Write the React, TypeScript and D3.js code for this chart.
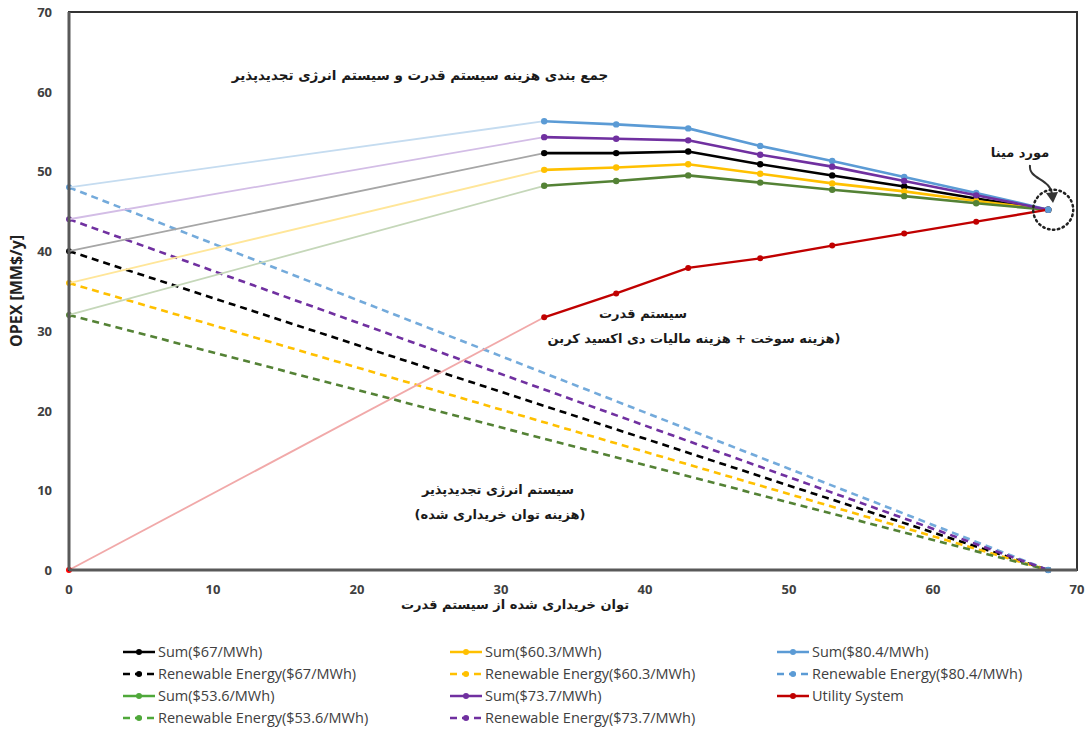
import * as d3 from "d3";

// x positions (MW purchased from the utility)
const xValues = [0, 33, 38, 43, 48, 53, 58, 63, 68];

// Utility system OPEX
const utility = [0, 31.7, 34.7, 37.9, 39.1, 40.7, 42.2, 43.7, 45.2];

// sums (utility + renewable)
const sum67 = [40, 52.3, 52.3, 52.5, 50.9, 49.5, 48.1, 46.6, 45.2];
const sum603 = [36, 50.2, 50.5, 50.9, 49.7, 48.5, 47.5, 46.3, 45.2];
const sum804 = [48, 56.3, 55.9, 55.4, 53.2, 51.3, 49.3, 47.3, 45.2];
const sum536 = [32, 48.2, 48.8, 49.5, 48.6, 47.7, 46.9, 46.0, 45.2];
const sum737 = [44, 54.3, 54.1, 53.9, 52.1, 50.6, 48.8, 47.0, 45.2];

// renewable energy lines: from x=0 down to x=68
const reX = [0, 68];
const re67 = [40, 0];
const re603 = [36, 0];
const re804 = [48, 0];
const re536 = [32, 0];
const re737 = [44, 0];

const xTicks = [0, 10, 20, 30, 40, 50, 60, 70];
const yTicks = [0, 10, 20, 30, 40, 50, 60, 70];

const sums = [
  { name: "Sum($67/MWh)", vals: sum67, color: "#000000", light: "#a6a6a6" },
  { name: "Sum($60.3/MWh)", vals: sum603, color: "#ffc000", light: "#ffe699" },
  { name: "Sum($80.4/MWh)", vals: sum804, color: "#5b9bd5", light: "#c5dcf0" },
  { name: "Sum($53.6/MWh)", vals: sum536, color: "#548235", light: "#c5d7b9" },
  { name: "Sum($73.7/MWh)", vals: sum737, color: "#7030a0", light: "#d3bde6" },
];

const renewables = [
  { name: "Renewable Energy($67/MWh)", vals: re67, color: "#000000" },
  { name: "Renewable Energy($60.3/MWh)", vals: re603, color: "#ffc000" },
  { name: "Renewable Energy($80.4/MWh)", vals: re804, color: "#5b9bd5" },
  { name: "Renewable Energy($53.6/MWh)", vals: re536, color: "#548235" },
  { name: "Renewable Energy($73.7/MWh)", vals: re737, color: "#7030a0" },
];

const legendItems = [
  { name: "Sum($67/MWh)", color: "#000000", dash: false },
  { name: "Sum($60.3/MWh)", color: "#ffc000", dash: false },
  { name: "Sum($80.4/MWh)", color: "#5b9bd5", dash: false },
  { name: "Renewable Energy($67/MWh)", color: "#000000", dash: true },
  { name: "Renewable Energy($60.3/MWh)", color: "#ffc000", dash: true },
  { name: "Renewable Energy($80.4/MWh)", color: "#5b9bd5", dash: true },
  { name: "Sum($53.6/MWh)", color: "#4fa83a", dash: false },
  { name: "Sum($73.7/MWh)", color: "#7030a0", dash: false },
  { name: "Utility System", color: "#c00000", dash: false },
  { name: "Renewable Energy($53.6/MWh)", color: "#4fa83a", dash: true },
  { name: "Renewable Energy($73.7/MWh)", color: "#7030a0", dash: true },
];

const fa = "DejaVu Sans";

export default function App() {
  const left = 69, right = 1077, top = 12, bottom = 570;
  const x = d3.scaleLinear().domain([0, 70]).range([left, right]);
  const y = d3.scaleLinear().domain([0, 70]).range([bottom, top]);

  const line = d3.line<[number, number]>().x(d => x(d[0])).y(d => y(d[1]));
  const pts = (xs: number[], vs: number[]) => xs.map((v, i) => [v, vs[i]] as [number, number]);

  // arrow path toward the dotted circle
  const arrow = d3.path();
  arrow.moveTo(1030, 165);
  arrow.bezierCurveTo(1028, 180, 1052, 178, 1052, 196);

  return (
    <svg width={1089} height={731} style={{ position: "absolute", left: 0, top: 0, background: "#fff" }}>
      {/* renewable dashed lines */}
      {renewables.map((r) => {
        const p = pts(reX, r.vals);
        return (
          <g key={r.name}>
            <path d={line(p) || ""} fill="none" stroke={r.color} strokeWidth={2.6}
              strokeDasharray="7,5" opacity={r.color === "#5b9bd5" ? 0.85 : 1} />
            {p.map((d, i) => (
              <circle key={i} cx={x(d[0])} cy={y(d[1])} r={3} fill={r.color} />
            ))}
          </g>
        );
      })}

      {/* faded first segments */}
      {sums.map((s) => {
        const p = pts(xValues, s.vals).slice(0, 2);
        return <path key={s.name + "f"} d={line(p) || ""} fill="none" stroke={s.light} strokeWidth={1.8} />;
      })}
      <path d={line(pts(xValues, utility).slice(0, 2)) || ""} fill="none" stroke="#f1a9a9" strokeWidth={1.8} />

      {/* bold segments */}
      {sums.map((s) => {
        const p = pts(xValues, s.vals).slice(1);
        return (
          <g key={s.name}>
            <path d={line(p) || ""} fill="none" stroke={s.color} strokeWidth={2.6} />
            {p.map((d, i) => (
              <circle key={i} cx={x(d[0])} cy={y(d[1])} r={3.2} fill={s.color} />
            ))}
          </g>
        );
      })}
      <path d={line(pts(xValues, utility).slice(1)) || ""} fill="none" stroke="#c00000" strokeWidth={2.4} />
      {pts(xValues, utility).slice(0, 8).map((d, i) => (
        <circle key={i} cx={x(d[0])} cy={y(d[1])} r={3} fill={i === 0 ? "#ff0000" : "#c00000"} />
      ))}
      <circle cx={x(68)} cy={y(45.2)} r={3.2} fill="#5b9bd5" />
      <circle cx={x(68)} cy={y(0)} r={3.2} fill="#5b9bd5" />

      {/* frame */}
      <rect x={left} y={top} width={right - left} height={bottom - top} fill="none" stroke="#333" strokeWidth={2} />
      <line x1={left} y1={top} x2={left} y2={bottom} stroke="#595959" strokeWidth={3} />
      <line x1={left} y1={bottom} x2={right} y2={bottom} stroke="#595959" strokeWidth={3} />

      {/* ticks */}
      {yTicks.map((t) => (
        <text key={"y" + t} x={52} y={y(t) + 5} textAnchor="end" fontSize={13} fontWeight="bold"
          fontFamily="Open Sans, sans-serif" fill="#404040">{t}</text>
      ))}
      {xTicks.map((t) => (
        <text key={"x" + t} x={x(t)} y={594} textAnchor="middle" fontSize={13} fontWeight="bold"
          fontFamily="Open Sans, sans-serif" fill="#404040">{t}</text>
      ))}
      <text transform="translate(22,291) rotate(-90)" textAnchor="middle" fontSize={16} fontWeight="bold"
        fontFamily="Open Sans, sans-serif" fill="#222">OPEX [MM$/y]</text>

      {/* Persian annotations */}
      <g fontFamily={fa} fontSize={13} fontWeight="bold" fill="#1a1a1a" textAnchor="middle">
        <text x={420} y={80} fontSize={13.5} direction="rtl">جمع بندی هزینه سیستم قدرت و سیستم انرژی تجدیدپذیر</text>
        <text x={1020} y={157} direction="rtl">مورد مینا</text>
        <text x={643} y={318} direction="rtl">سیستم قدرت</text>
        <text x={694} y={343} direction="rtl">(هزینه سوخت + هزینه مالیات دی اکسید کربن</text>
        <text x={498} y={494} direction="rtl">سیستم انرژی تجدیدپذیر</text>
        <text x={500} y={519} direction="rtl">(هزینه توان خریداری شده)</text>
        <text x={515} y={609} direction="rtl">توان خریداری شده از سیستم قدرت</text>
      </g>

      {/* highlight: arrow + dotted circle */}
      <path d={arrow.toString()} fill="none" stroke="#333" strokeWidth={2} />
      <path d="M1046,193 L1053,203 L1058,192 Z" fill="#333" />
      <circle cx={x(68) + 5} cy={y(45.2)} r={20} fill="none" stroke="#222" strokeWidth={2.5}
        strokeDasharray="1.5,3.5" strokeLinecap="round" />

      {/* legend */}
      {legendItems.map((it, i) => {
        const col = i % 3, row = Math.floor(i / 3);
        const lx = 123 + col * 327, ly = 652 + row * 22;
        return (
          <g key={it.name}>
            <line x1={lx} y1={ly} x2={lx + 32} y2={ly} stroke={it.color} strokeWidth={2.5}
              strokeDasharray={it.dash ? "7,5" : undefined} />
            <circle cx={lx + 16} cy={ly} r={3} fill={it.color} />
            <text x={lx + 35} y={ly + 5} fontSize={14.5} fontFamily="Open Sans, sans-serif" fill="#404040">{it.name}</text>
          </g>
        );
      })}
    </svg>
  );
}
